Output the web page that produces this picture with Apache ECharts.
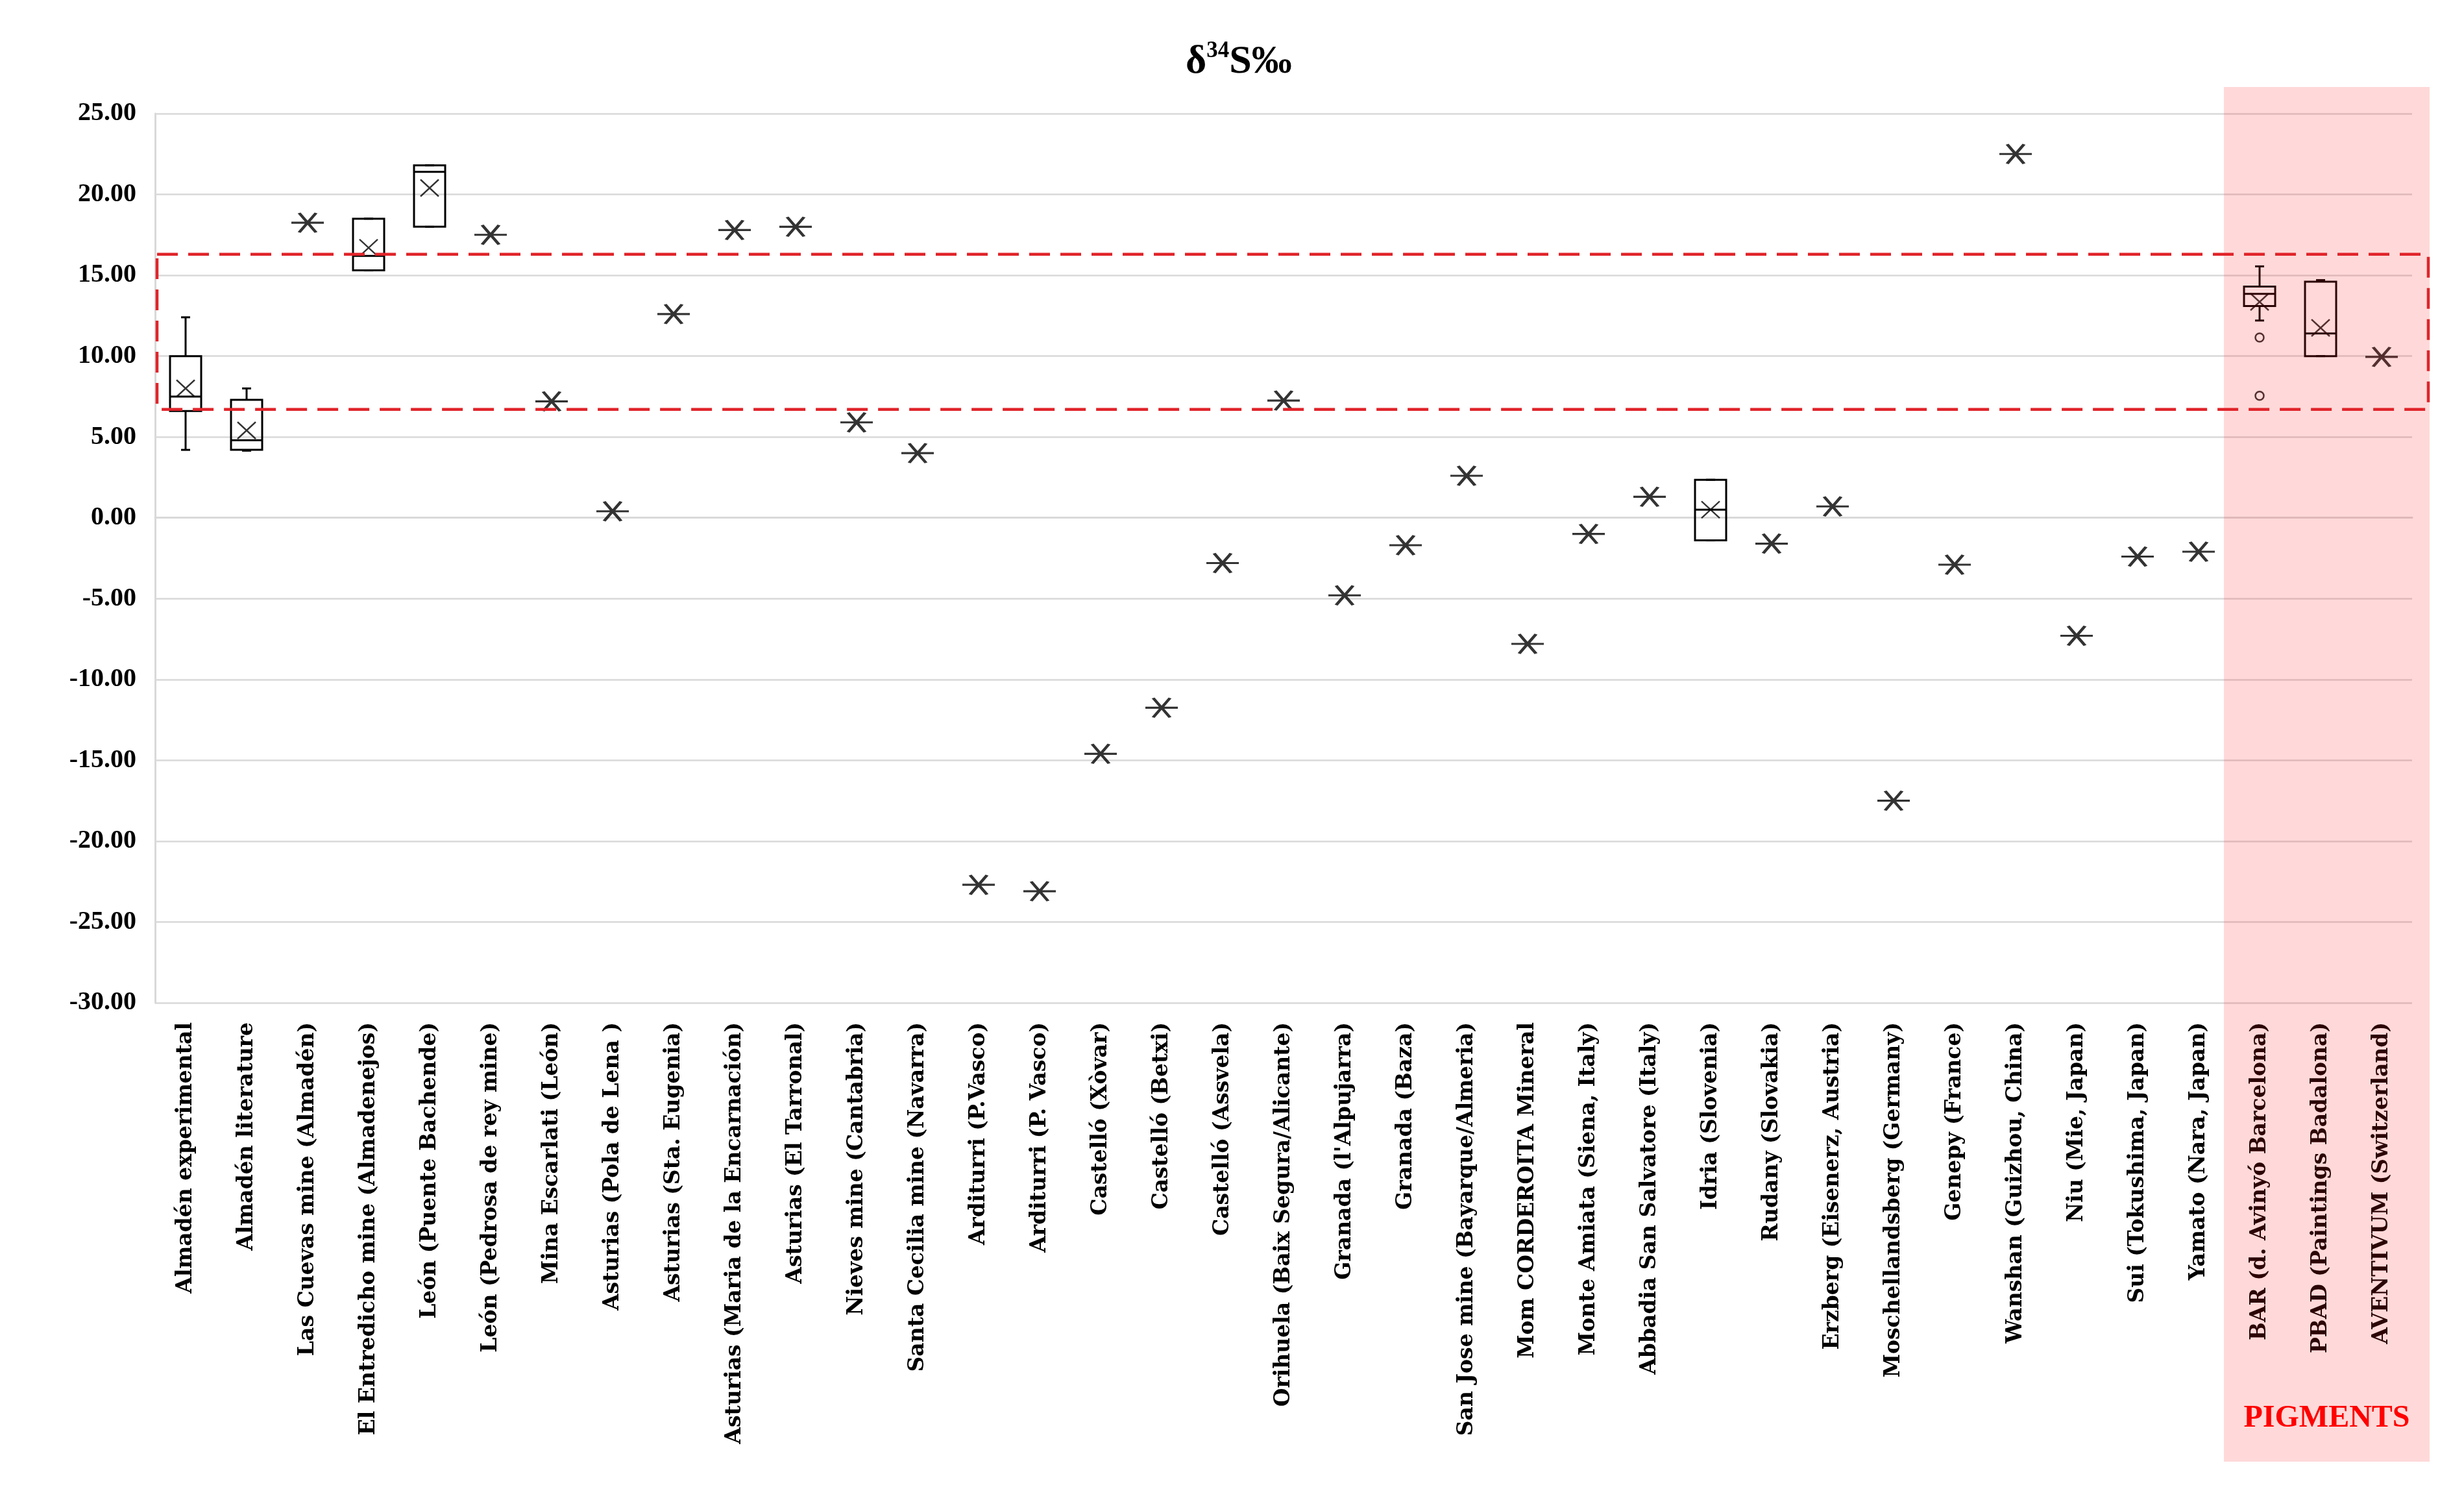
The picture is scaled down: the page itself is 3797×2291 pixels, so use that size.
<!DOCTYPE html>
<html>
<head>
<meta charset="utf-8">
<script src="https://cdn.jsdelivr.net/npm/echarts@6/dist/echarts.min.js"></script>
<style>html,body{margin:0;padding:0;background:#fff}#c{width:3797px;height:2291px}</style>
</head>
<body>
<div id="c"></div>
<script>
const categories = [
  'Almadén experimental','Almadén literature','Las Cuevas mine (Almadén)','El Entredicho mine (Almadenejos)',
  'León (Puente Bachende)','León (Pedrosa de rey mine)','Mina Escarlati (León)','Asturias (Pola de Lena )',
  'Asturias (Sta. Eugenia)','Asturias (Maria de la Encarnación)','Asturias (El Tarronal)','Nieves mine (Cantabria)',
  'Santa Cecilia mine (Navarra)','Arditurri (P.Vasco)','Arditurri (P. Vasco)','Castelló (Xòvar)','Castelló (Betxi)',
  'Castelló (Assvela)','Orihuela (Baix Segura/Alicante)',"Granada (l'Alpujarra)",'Granada (Baza)',
  'San Jose mine (Bayarque/Almeria)','Mom CORDEROITA Mineral','Monte Amiata (Siena, Italy)',
  'Abbadia San Salvatore (Italy)','Idria (Slovenia)','Rudany (Slovakia)','Erzberg (Eisenerz, Austria)',
  'Moschellandsberg (Germany)','Genepy (France)','Wanshan (Guizhou, China)','Niu (Mie, Japan)',
  'Sui (Tokushima, Japan)','Yamato (Nara, Japan)','BAR (d. Avinyó Barcelona)','PBAD (Paintings Badalona)',
  'AVENTIVUM (Switzerland)'
];

// single-value sites (asterisk markers)
const singleCategory = [
  'Las Cuevas mine (Almadén)','León (Pedrosa de rey mine)','Mina Escarlati (León)','Asturias (Pola de Lena )',
  'Asturias (Sta. Eugenia)','Asturias (Maria de la Encarnación)','Asturias (El Tarronal)','Nieves mine (Cantabria)',
  'Santa Cecilia mine (Navarra)','Arditurri (P.Vasco)','Arditurri (P. Vasco)','Castelló (Xòvar)','Castelló (Betxi)',
  'Castelló (Assvela)','Orihuela (Baix Segura/Alicante)',"Granada (l'Alpujarra)",'Granada (Baza)',
  'San Jose mine (Bayarque/Almeria)','Mom CORDEROITA Mineral','Monte Amiata (Siena, Italy)',
  'Abbadia San Salvatore (Italy)','Rudany (Slovakia)','Erzberg (Eisenerz, Austria)','Moschellandsberg (Germany)',
  'Genepy (France)','Wanshan (Guizhou, China)','Niu (Mie, Japan)','Sui (Tokushima, Japan)','Yamato (Nara, Japan)',
  'AVENTIVUM (Switzerland)'
];
const singleValue = [
  18.25, 17.5, 7.2, 0.4,
  12.6, 17.8, 18.0, 5.9,
  4.0, -22.7, -23.1, -14.6, -11.75,
  -2.8, 7.25, -4.8, -1.7,
  2.6, -7.8, -1.0,
  1.3, -1.6, 0.7, -17.5,
  -2.9, 22.5, -7.3, -2.4, -2.1,
  9.95
];

// box plots
const boxCategory = ['Almadén experimental','Almadén literature','El Entredicho mine (Almadenejos)',
  'León (Puente Bachende)','Idria (Slovenia)','BAR (d. Avinyó Barcelona)','PBAD (Paintings Badalona)'];
const boxMin    = [4.2, 4.15, 15.3, 18.0, -1.4, 12.2, 10.0];
const boxQ1     = [6.6, 4.2, 15.3, 18.0, -1.4, 13.1, 10.0];
const boxMedian = [7.5, 4.8, 16.2, 21.4, 0.5, 13.85, 11.4];
const boxQ3     = [10.0, 7.3, 18.5, 21.8, 2.35, 14.3, 14.6];
const boxMax    = [12.4, 8.0, 18.5, 21.8, 2.35, 15.55, 14.7];
const boxMean   = [8.0, 5.4, 16.7, 20.4, 0.5, 13.35, 11.75];

// outliers
const outlierCategory = ['BAR (d. Avinyó Barcelona)','BAR (d. Avinyó Barcelona)'];
const outlierValue = [11.15, 7.55];

// highlighted range (dashed box) and axis
const rangeLimits = [6.7, 16.3];
const yTicks = { min: -30, max: 25, interval: 5 };
const pigmentCategories = ['BAR (d. Avinyó Barcelona)','PBAD (Paintings Badalona)','AVENTIVUM (Switzerland)'];

const chart = echarts.init(document.getElementById('c'), null, { renderer: 'canvas' });

const boxData = boxCategory.map((c, i) => [categories.indexOf(c), boxMin[i], boxQ1[i], boxMedian[i], boxQ3[i], boxMax[i]]);

const STAR = 'path://M0,15 L50,15 M12,0 L38,30 M38,0 L12,30';
const XMARK = 'path://M0,0 L10,10 M10,0 L0,10';

const option = {
  animation: false,
  backgroundColor: '#ffffff',
  title: {
    text: '{a|δ}{s|34}{a|S‰}',
    left: 1822,
    top: 56,
    textStyle: {
      rich: {
        a: { fontFamily: 'Liberation Serif', fontSize: 62, fontWeight: 'bold', color: '#000', lineHeight: 70 },
        s: { fontFamily: 'Liberation Serif', fontSize: 35, fontWeight: 'bold', color: '#000', lineHeight: 70, verticalAlign: 'top', padding: [0, 0, 24, 0] }
      }
    }
  },
  grid: { left: 239, right: 80, top: 175, bottom: 746, containLabel: false },
  xAxis: {
    type: 'category',
    data: categories,
    boundaryGap: true,
    axisLine: { show: true, lineStyle: { color: '#d9d9d9', width: 3 } },
    axisTick: { show: false },
    splitLine: { show: false },
    axisLabel: {
      interval: 0, rotate: 90, margin: 30,
      fontFamily: 'DejaVu Serif', fontWeight: 'bold', fontSize: 33, color: '#000'
    }
  },
  yAxis: {
    type: 'value',
    min: yTicks.min, max: yTicks.max, interval: yTicks.interval,
    axisLine: { show: true, lineStyle: { color: '#d9d9d9', width: 3 } },
    axisTick: { show: false },
    splitLine: { show: true, lineStyle: { color: '#d9d9d9', width: 2.5 } },
    axisLabel: {
      margin: 29, formatter: v => v.toFixed(2),
      fontFamily: 'Liberation Serif', fontWeight: 'bold', fontSize: 40, color: '#000'
    }
  },
  series: [
    {
      type: 'custom',
      name: 'box',
      data: boxData,
      encode: { x: 0, y: [1, 2, 3, 4, 5] },
      z: 3,
      renderItem: function (params, api) {
        const ci = api.value(0);
        const x = api.coord([ci, 0])[0];
        const yMin = api.coord([ci, api.value(1)])[1];
        const yQ1 = api.coord([ci, api.value(2)])[1];
        const yMed = api.coord([ci, api.value(3)])[1];
        const yQ3 = api.coord([ci, api.value(4)])[1];
        const yMax = api.coord([ci, api.value(5)])[1];
        const hw = 24, cw = 7;
        const st = { stroke: '#000', lineWidth: 3, fill: null };
        return {
          type: 'group',
          children: [
            { type: 'line', shape: { x1: x, y1: yMax, x2: x, y2: yQ3 }, style: st },
            { type: 'line', shape: { x1: x, y1: yQ1, x2: x, y2: yMin }, style: st },
            { type: 'line', shape: { x1: x - cw, y1: yMax, x2: x + cw, y2: yMax }, style: st },
            { type: 'line', shape: { x1: x - cw, y1: yMin, x2: x + cw, y2: yMin }, style: st },
            { type: 'rect', shape: { x: x - hw, y: yQ3, width: 2 * hw, height: yQ1 - yQ3 }, style: { stroke: '#000', lineWidth: 3, fill: 'rgba(0,0,0,0)' } },
            { type: 'line', shape: { x1: x - hw, y1: yMed, x2: x + hw, y2: yMed }, style: st }
          ]
        };
      }
    },
    {
      type: 'scatter',
      name: 'mean',
      data: boxCategory.map((c, i) => [c, boxMean[i]]),
      symbol: XMARK,
      symbolSize: [28, 26],
      itemStyle: { color: 'rgba(0,0,0,0)', borderColor: '#000', borderWidth: 2.5 },
      z: 4
    },
    {
      type: 'scatter',
      name: 'single',
      data: singleCategory.map((c, i) => [c, singleValue[i]]),
      symbol: STAR,
      symbolSize: [50, 30],
      itemStyle: { color: 'rgba(0,0,0,0)', borderColor: '#000', borderWidth: 4 },
      z: 4
    },
    {
      type: 'scatter',
      name: 'outlier',
      data: outlierCategory.map((c, i) => [c, outlierValue[i]]),
      symbol: 'circle',
      symbolSize: 13,
      itemStyle: { color: 'rgba(0,0,0,0)', borderColor: '#000', borderWidth: 2.5 },
      z: 4
    }
  ]
};

chart.setOption(option);

// overlay decorations placed from the chart's own scales
const toPx = (c, v) => chart.convertToPixel({ xAxisIndex: 0, yAxisIndex: 0 }, [c, v]);
const band = toPx(categories[1], 0)[0] - toPx(categories[0], 0)[0];
const plotLeft = toPx(categories[0], 0)[0] - band / 2;
const plotRight = toPx(categories[categories.length - 1], 0)[0] + band / 2;
const yTop = toPx(categories[0], yTicks.max)[1];
const yLo = toPx(categories[0], rangeLimits[0])[1];
const yHi = toPx(categories[0], rangeLimits[1])[1];
const pinkLeft = toPx(pigmentCategories[0], 0)[0] - band / 2 - 8;
const pinkRight = plotRight + 27;
const H = 2291;

chart.setOption({
  graphic: [
    {
      type: 'rect', z: 100, silent: true,
      shape: { x: pinkLeft, y: yTop - 41, width: pinkRight - pinkLeft, height: (H - 39) - (yTop - 41) },
      style: { fill: 'rgba(255,30,30,0.17)' }
    },
    {
      type: 'rect', z: 101, silent: true,
      shape: { x: plotLeft + 3, y: yHi, width: pinkRight - 2 - (plotLeft + 3), height: yLo - yHi },
      style: { fill: null, stroke: '#e0242a', lineWidth: 4.5, lineDash: [32, 16] }
    },
    {
      type: 'text', z: 102, silent: true,
      x: (pinkLeft + pinkRight) / 2, y: H - 105,
      style: {
        text: 'PIGMENTS', fill: '#ff0000', align: 'center', verticalAlign: 'middle',
        font: 'bold 48px "Liberation Serif"'
      }
    }
  ]
});
</script>
</body>
</html>
